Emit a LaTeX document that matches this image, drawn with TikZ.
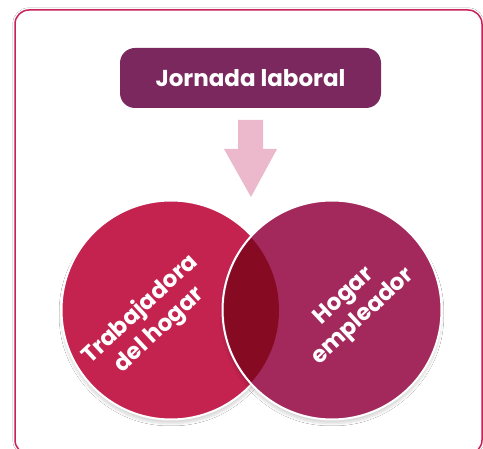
\documentclass[tikz,border=0pt]{standalone}
\usepackage{fontspec}
\setmainfont{Poppins}
\usetikzlibrary{shadows.blur}
\definecolor{frame}{HTML}{C8235A}
\definecolor{titlebg}{HTML}{7A285E}
\definecolor{arrowpink}{HTML}{EBB9CB}
\definecolor{leftc}{HTML}{C4224F}
\definecolor{rightc}{HTML}{A3285C}
\definecolor{midc}{HTML}{850A22}
\tikzset{
  titlebox/.style={fill=titlebg, rounded corners=15pt, minimum width=261pt, minimum height=60pt, inner sep=0pt, text=white, font=\fontsize{23}{26}\selectfont\bfseries},
  venn/.style={circle, minimum size=219pt, inner sep=0pt, draw=white, line width=2pt, blur shadow={shadow blur steps=10, shadow xshift=0pt, shadow yshift=-4pt, shadow opacity=15, shadow blur extra rounding=3pt}},
  lbl/.style={text=white, align=center, rotate=43, font=\fontsize{23}{28}\selectfont\bfseries, inner sep=0pt}
}
\begin{document}
\begin{tikzpicture}[x=1pt,y=-1pt]
\useasboundingbox (0,0) rectangle (483,449);
\fill[white] (0,0) rectangle (483,449);
\draw[frame, line width=1.5pt, rounded corners=14pt, blur shadow={shadow blur steps=6, shadow xshift=0pt, shadow yshift=0pt, shadow opacity=10}, fill=white] (15,10) rectangle (482,454);
\node[titlebox] (title) at (250.5,78) {Jornada laboral};
\fill[arrowpink] (238,120) -- (263,120) -- (263,149) -- (277,149) -- (251,197) -- (224,149) -- (238,149) -- cycle;
\node[venn, fill=leftc] (L) at (171,310) {};
\node[venn, fill=rightc] (R) at (332,310) {};
\begin{scope}
  \clip (171,310) circle (108);
  \fill[midc] (332,310) circle (108);
\end{scope}
\node[lbl] (lt) at (150,320) {Trabajadora\\del hogar};
\node[lbl] (rt) at (354,307) {Hogar\\empleador};
\end{tikzpicture}
\end{document}
